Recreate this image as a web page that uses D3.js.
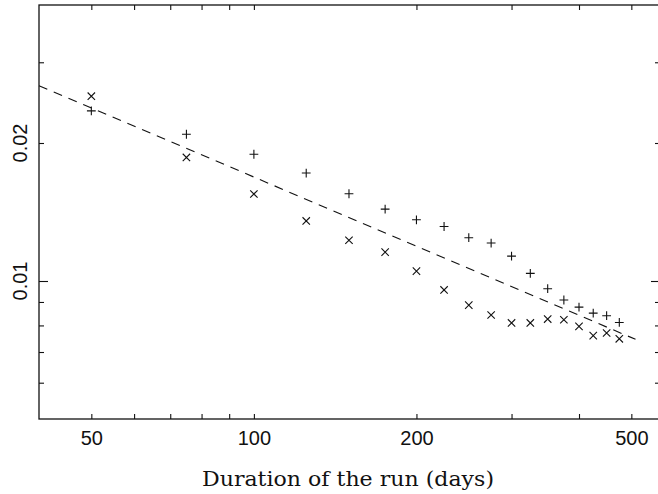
<!DOCTYPE html>
<html>
<head>
<meta charset="utf-8">
<script src="https://cdn.jsdelivr.net/npm/d3@7"></script>
<style>
  html, body { margin: 0; padding: 0; background: #fff; }
  svg { display: block; }
</style>
</head>
<body>
<svg id="chart"></svg>
<script>
// run durations (days)
const days = [50, 75, 100, 125, 150, 175, 200, 225, 250, 275, 300, 325, 350, 375, 400, 425, 450, 475];
// "+" series
const plusRate = [0.0235, 0.0209, 0.0189, 0.0172, 0.0155, 0.01435, 0.0136, 0.01315, 0.01243, 0.0121,
  0.01133, 0.01039, 0.00962, 0.00909, 0.00877, 0.00851, 0.0084, 0.00812];
// "x" series
const crossRate = [0.0253, 0.0186, 0.01548, 0.01352, 0.01227, 0.01156, 0.01051, 0.00956, 0.00886, 0.00843,
  0.0081, 0.0081, 0.00826, 0.00823, 0.00796, 0.0076, 0.0077, 0.00748];
// dashed fit line end points
const fitDays = [40, 509];
const fitRate = [0.02667, 0.00746];

const xTicks = [50, 60, 70, 80, 90, 100, 200, 300, 400, 500];
const xLabels = [50, 100, 200, 500];
const yTicks = [0.006, 0.007, 0.008, 0.009, 0.01, 0.02, 0.03];
const yLabels = [0.01, 0.02];

const width = 658, height = 494;
const margin = { top: 5, right: -2, bottom: 75, left: 39 };

const svg = d3.select("#chart").attr("width", width).attr("height", height);

const x = d3.scaleLog()
  .domain([40, 565])
  .range([margin.left, width - margin.right]);

const y = d3.scaleLog()
  .domain([0.005, 0.04])
  .range([height - margin.bottom, margin.top]);

const labelFont = "'Liberation Sans', Arial, sans-serif";

// bottom axis
const xAxisBottom = svg.append("g")
  .attr("transform", `translate(0,${height - margin.bottom})`)
  .call(d3.axisBottom(x)
    .tickValues(xTicks)
    .tickSizeInner(-5)
    .tickSizeOuter(0)
    .tickPadding(12)
    .tickFormat(d => xLabels.includes(d) ? d : ""));

// top axis (ticks only)
const xAxisTop = svg.append("g")
  .attr("transform", `translate(0,${margin.top})`)
  .call(d3.axisTop(x)
    .tickValues(xTicks)
    .tickSizeInner(-5)
    .tickSizeOuter(0)
    .tickFormat(""));

// left axis
const yAxisLeft = svg.append("g")
  .attr("transform", `translate(${margin.left},0)`)
  .call(d3.axisLeft(y)
    .tickValues(yTicks)
    .tickSizeInner(-5)
    .tickSizeOuter(0)
    .tickFormat(""));

// right axis
const yAxisRight = svg.append("g")
  .attr("transform", `translate(${width - margin.right},0)`)
  .call(d3.axisRight(y)
    .tickValues(yTicks)
    .tickSizeInner(-5)
    .tickSizeOuter(0)
    .tickFormat(""));

// decade tick is longer
yAxisLeft.selectAll(".tick line").attr("x2", d => d === 0.01 ? 9 : 5);
yAxisRight.selectAll(".tick line").attr("x2", d => d === 0.01 ? -9 : -5);

[xAxisBottom, xAxisTop, yAxisLeft, yAxisRight].forEach(g => {
  g.select(".domain").remove();
  g.selectAll(".tick line").attr("stroke", "#111").attr("stroke-width", 1.1);
});

xAxisBottom.selectAll(".tick text")
  .attr("font-family", labelFont)
  .attr("font-size", 20)
  .attr("fill", "#111");

// rotated y labels
svg.append("g")
  .selectAll("text")
  .data(yLabels)
  .join("text")
  .attr("transform", d => `translate(27,${y(d)}) rotate(-90)`)
  .attr("text-anchor", "middle")
  .attr("font-family", labelFont)
  .attr("font-size", 20)
  .attr("fill", "#111")
  .text(d => d);

// frame
svg.append("rect")
  .attr("x", margin.left)
  .attr("y", margin.top)
  .attr("width", width - margin.right - margin.left)
  .attr("height", height - margin.bottom - margin.top)
  .attr("fill", "none")
  .attr("stroke", "#111")
  .attr("stroke-width", 1.3);

// x axis title
svg.append("text")
  .attr("x", 348)
  .attr("y", 486)
  .attr("text-anchor", "middle")
  .attr("font-family", "'DejaVu Serif', serif")
  .attr("font-size", 20)
  .attr("textLength", 292)
  .attr("lengthAdjust", "spacingAndGlyphs")
  .attr("fill", "#111")
  .text("Duration of the run (days)");

// dashed fit
const fit = fitDays.map((d, i) => ({ d, r: fitRate[i] }));
svg.append("path")
  .datum(fit)
  .attr("fill", "none")
  .attr("stroke", "#111")
  .attr("stroke-width", 1.1)
  .attr("stroke-dasharray", "9,7")
  .attr("d", d3.line().x(p => x(p.d)).y(p => y(p.r)));

const plusPts = days.map((d, i) => ({ d, r: plusRate[i] }));
const crossPts = days.map((d, i) => ({ d, r: crossRate[i] }));

const ph = 4.4, ch = 3.7;
svg.append("g")
  .selectAll("path")
  .data(plusPts)
  .join("path")
  .attr("transform", p => `translate(${x(p.d)},${y(p.r)})`)
  .attr("d", `M${-ph},0H${ph}M0,${-ph}V${ph}`)
  .attr("stroke", "#111")
  .attr("stroke-width", 1.1)
  .attr("fill", "none");

svg.append("g")
  .selectAll("path")
  .data(crossPts)
  .join("path")
  .attr("transform", p => `translate(${x(p.d)},${y(p.r)})`)
  .attr("d", `M${-ch},${-ch}L${ch},${ch}M${-ch},${ch}L${ch},${-ch}`)
  .attr("stroke", "#111")
  .attr("stroke-width", 1.1)
  .attr("fill", "none");
</script>
</body>
</html>
